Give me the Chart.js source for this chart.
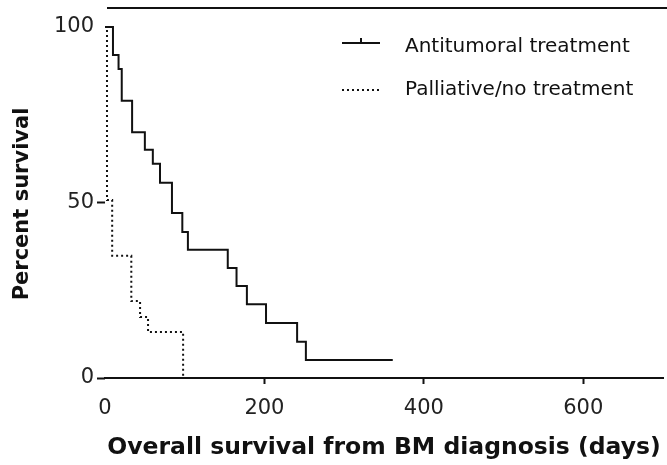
<!DOCTYPE html>
<html>
<head>
<meta charset="utf-8">
<script src="https://cdn.jsdelivr.net/npm/chart.js@4/dist/chart.umd.min.js"></script>
<style>
  html, body { margin: 0; padding: 0; background: #fff; }
  #wrap { width: 667px; height: 465px; }
</style>
</head>
<body>
<div id="wrap"><canvas id="kmChart" width="667" height="465"></canvas></div>
<script>
// Kaplan-Meier curves (days, percent surviving)
const antiDays = [0, 10, 17, 21, 34, 50, 60, 69, 84, 97, 104, 154, 165, 178, 202, 241, 252, 361];
const antiSurv = [100, 92, 88, 79, 70, 65, 61, 55.6, 47, 41.6, 36.5, 31.3, 26.2, 21, 15.7, 10.3, 5.1, 5.1];
const palDays = [0, 2.5, 9, 33, 44, 54, 98];
const palSurv = [100, 50.7, 34.8, 21.9, 17.4, 13.1, 0];

const seriesLabels = ['Antitumoral treatment', 'Palliative/no treatment'];
const xTicks = [0, 200, 400, 600];
const yTicks = [0, 50, 100];

const toPoints = (xs, ys) => xs.map((x, i) => ({ x: x, y: ys[i] }));

// top frame line + legend drawn inside the plot
const extras = {
    id: 'extras',
    afterDraw(chart) {
        const ctx = chart.ctx;
        const area = chart.chartArea;
        ctx.save();
        ctx.strokeStyle = '#111';
        ctx.lineWidth = 2;
        ctx.beginPath();
        ctx.moveTo(area.left + 2, area.top);
        ctx.lineTo(chart.width, area.top);
        ctx.stroke();

        // legend
        const rows = [{ line: 43, text: 47 }, { line: 90, text: 90 }];
        ctx.font = '20px "DejaVu Sans"';
        ctx.textBaseline = 'middle';
        ctx.fillStyle = '#111';
        chart.data.datasets.forEach((ds, i) => {
            const r = rows[i];
            ctx.setLineDash(ds.borderDash || []);
            ctx.lineWidth = ds.borderWidth;
            ctx.strokeStyle = ds.borderColor;
            ctx.beginPath();
            ctx.moveTo(342, r.line);
            ctx.lineTo(380, r.line);
            ctx.stroke();
            if (i === 0) {
                ctx.beginPath();
                ctx.moveTo(361, r.line - 5);
                ctx.lineTo(361, r.line);
                ctx.stroke();
            }
            ctx.setLineDash([]);
            ctx.fillText(ds.label, 405, r.text);
        });
        ctx.restore();
    }
};

new Chart(document.getElementById('kmChart'), {
    type: 'line',
    data: {
        datasets: [
            {
                label: seriesLabels[0],
                data: toPoints(antiDays, antiSurv),
                borderColor: '#111',
                borderWidth: 2,
                stepped: 'before',
                pointRadius: 0,
                fill: false
            },
            {
                label: seriesLabels[1],
                data: toPoints(palDays, palSurv),
                borderColor: '#111',
                borderWidth: 2,
                borderDash: [2, 3],
                stepped: 'before',
                pointRadius: 0,
                fill: false
            }
        ]
    },
    options: {
        responsive: false,
        animation: false,
        layout: { padding: { top: 8, right: 4, left: 0, bottom: 0 } },
        plugins: {
            legend: { display: false },
            tooltip: { enabled: false }
        },
        scales: {
            x: {
                type: 'linear',
                min: 0,
                max: 700,
                afterBuildTicks: s => { s.ticks = xTicks.map(v => ({ value: v })); },
                afterFit: s => { s.height = 87; s.paddingLeft = 0; s.paddingRight = 0; },
                border: { display: true, color: '#111', width: 2 },
                grid: {
                    drawOnChartArea: false,
                    drawTicks: true,
                    tickLength: 6,
                    tickWidth: 2,
                    tickColor: c => (c.tick && c.tick.value === 0 ? 'rgba(0,0,0,0)' : '#111')
                },
                ticks: {
                    color: '#222',
                    font: { family: 'DejaVu Sans', size: 21 },
                    padding: 12,
                    maxRotation: 0
                },
                title: {
                    display: true,
                    text: 'Overall survival from BM diagnosis (days)',
                    color: '#111',
                    font: { family: 'DejaVu Sans', size: 23.5, weight: 'bold' },
                    padding: { top: 0, bottom: 3 }
                }
            },
            y: {
                min: 0,
                max: 105.4,
                afterBuildTicks: s => { s.ticks = yTicks.map(v => ({ value: v })); },
                afterFit: s => { s.width = 105; s.paddingTop = 0; s.paddingBottom = 0; },
                border: { display: false },
                grid: {
                    drawOnChartArea: false,
                    drawTicks: true,
                    tickLength: 8,
                    tickWidth: 2,
                    tickColor: c => (c.tick && c.tick.value === 100 ? 'rgba(0,0,0,0)' : '#111')
                },
                ticks: {
                    color: '#222',
                    font: { family: 'DejaVu Sans', size: 21 },
                    padding: 3
                },
                title: {
                    display: true,
                    text: 'Percent survival   ',
                    color: '#111',
                    font: { family: 'DejaVu Sans', size: 21, weight: 'bold' },
                    padding: { top: 10, bottom: 0 }
                }
            }
        }
    },
    plugins: [extras]
});
</script>
</body>
</html>
